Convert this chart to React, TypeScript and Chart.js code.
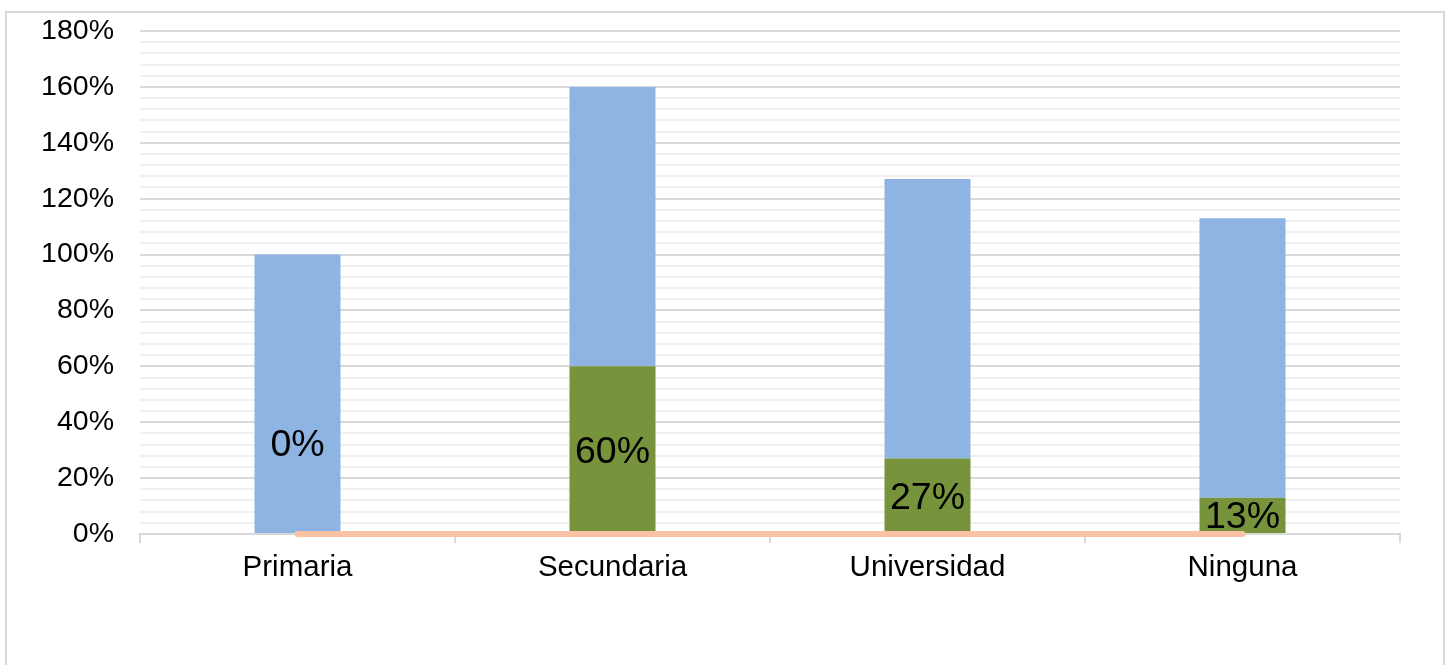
import React, { useEffect, useRef } from "react";
import { Chart, registerables } from "chart.js";

Chart.register(...registerables);

const categories = ["Primaria", "Secundaria", "Universidad", "Ninguna"];
const greenValues = [0, 60, 27, 13];
const blueValues = [100, 100, 100, 100];
const lineValues = [0, 0, 0, 0];
const yTicks = [0, 20, 40, 60, 80, 100, 120, 140, 160, 180];
// value at which a zero-height segment's label is placed
const zeroLabelAnchor = 32.5;

const FONT = "'Liberation Sans', Arial, sans-serif";

const labelPlugin = {
  id: "segLabels",
  afterDatasetsDraw(chart: any) {
    const ctx = chart.ctx;
    const meta = chart.getDatasetMeta(0);
    const y = chart.scales.y;
    ctx.save();
    ctx.font = `37.5px ${FONT}`;
    ctx.fillStyle = "#000000";
    ctx.textAlign = "center";
    ctx.textBaseline = "middle";
    meta.data.forEach((bar: any, i: number) => {
      const v = greenValues[i];
      const cy = v === 0 ? y.getPixelForValue(zeroLabelAnchor) : y.getPixelForValue(v / 2);
      ctx.fillText(`${v}%`, bar.x, cy + 2);
    });
    ctx.restore();
  },
};

export default function App() {
  const ref = useRef<HTMLCanvasElement>(null);
  useEffect(() => {
    document.body.style.margin = "0";
    const chart = new Chart(ref.current!, {
      type: "bar",
      data: {
        labels: categories,
        datasets: [
          {
            type: "bar",
            data: greenValues,
            backgroundColor: "#77933c",
            borderWidth: 0,
            stack: "s",
            order: 2,
          },
          {
            type: "bar",
            data: blueValues,
            backgroundColor: "#8eb4e3",
            borderWidth: 0,
            stack: "s",
            order: 2,
          },
          {
            type: "line",
            data: lineValues,
            borderColor: "#f9c2a4",
            borderWidth: 6,
            borderCapStyle: "round",
            pointRadius: 0,
            fill: false,
            clip: false,
            order: 1,
          } as any,
        ],
      },
      options: {
        animation: false,
        responsive: false,
        maintainAspectRatio: false,
        layout: { padding: { left: 0, right: 47, top: 31, bottom: 0 } },
        plugins: { legend: { display: false }, tooltip: { enabled: false } },
        datasets: {
          bar: { categoryPercentage: 1, barPercentage: 0.273 },
        },
        scales: {
          x: {
            stacked: true,
            offset: true,
            grid: {
              display: true,
              offset: true,
              drawOnChartArea: false,
              drawTicks: true,
              tickLength: 9,
              color: "#d9d9d9",
              lineWidth: 2,
            },
            border: { display: true, color: "#d9d9d9", width: 2 },
            ticks: {
              padding: 7,
              color: "#000000",
              font: { family: FONT, size: 29.5 },
              maxRotation: 0,
            },
            afterFit: (s: any) => {
              s.height = 131;
              s.paddingLeft = 0;
              s.paddingRight = 0;
            },
          },
          y: {
            stacked: true,
            min: 0,
            max: 180,
            afterBuildTicks: (s: any) => {
              const t: any[] = [];
              for (let v = 0; v <= 180; v += 4) t.push({ value: v });
              s.ticks = t;
            },
            grid: {
              drawTicks: false,
              color: (c: any) =>
                c.tick && yTicks.includes(c.tick.value) ? "#d9d9d9" : "#f0f0f0",
              lineWidth: 2,
            },
            border: { display: false },
            ticks: {
              padding: 26,
              color: "#000000",
              font: { family: FONT, size: 28.5 },
              autoSkip: false,
              callback: (v: any) => (yTicks.includes(Number(v)) ? `${v}%` : ""),
            },
            afterFit: (s: any) => {
              s.width = 140;
              s.paddingTop = 0;
              s.paddingBottom = 0;
            },
          },
        },
      },
      plugins: [labelPlugin],
    });
    return () => chart.destroy();
  }, []);

  return (
    <div style={{ position: "relative", width: 1447, height: 665, background: "#fff", overflow: "hidden" }}>
      <div
        style={{
          position: "absolute",
          left: 5,
          top: 11,
          width: 1436,
          height: 700,
          border: "2px solid #d9d9d9",
        }}
      />
      <canvas
        ref={ref}
        width={1447}
        height={665}
        style={{ position: "absolute", left: 0, top: 0, width: 1447, height: 665 }}
      />
    </div>
  );
}
